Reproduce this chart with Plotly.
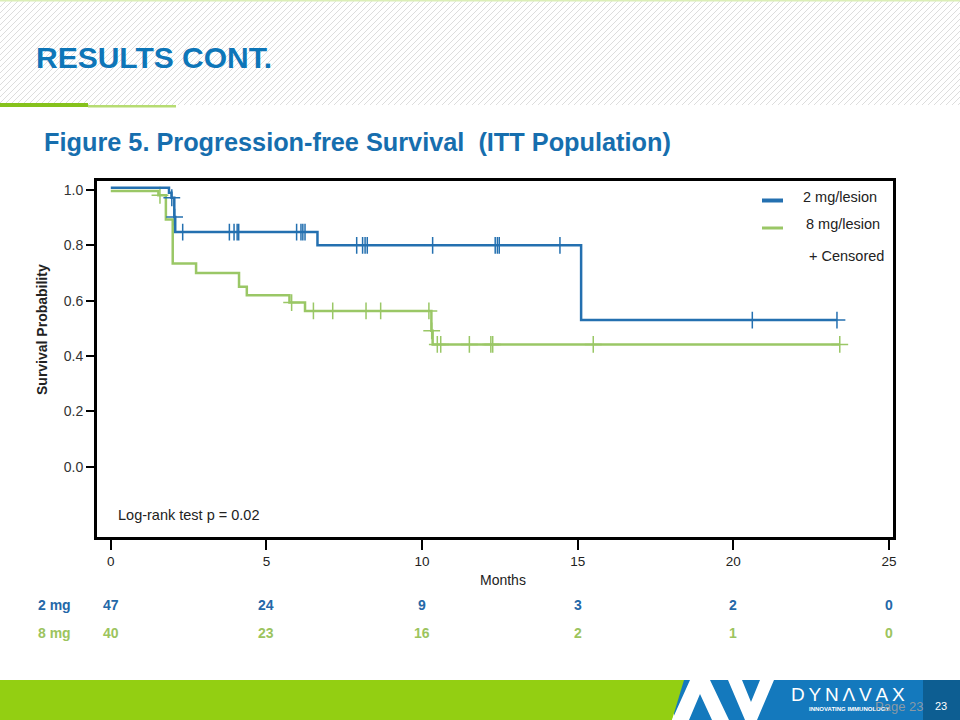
import plotly.graph_objects as go

# ---------------- data ----------------
month_ticks = [0, 5, 10, 15, 20, 25]
risk_2mg = [47, 24, 9, 3, 2, 0]
risk_8mg = [40, 23, 16, 2, 1, 0]
y_ticks = [0.0, 0.2, 0.4, 0.6, 0.8, 1.0]

blue_times = [0, 1.87, 1.95, 2.04, 2.07, 6.64, 15.11]
blue_surv = [1.008, 0.990, 0.972, 0.902, 0.848, 0.800, 0.530]
blue_end = 23.33
blue_censor = [1.96, 2.05, 2.31, 3.81, 3.96, 4.06, 4.11, 5.97, 6.11, 6.17, 6.24,
               7.90, 8.09, 8.17, 8.24, 10.34, 12.35, 12.42, 12.48, 14.43, 20.61, 23.33]

green_times = [0, 1.53, 1.77, 1.99, 2.74, 4.12, 4.37, 5.74, 6.24, 10.30, 10.34]
green_surv = [0.996, 0.981, 0.893, 0.734, 0.700, 0.650, 0.620, 0.593, 0.563, 0.491, 0.442]
green_end = 23.42
green_censor = [1.58, 5.81, 6.51, 7.13, 8.20, 8.67, 10.22, 10.31, 10.49, 10.60,
                11.52, 12.21, 12.27, 15.50, 23.42]

BLUE = '#2470b0'
GREEN = '#9ac766'
TXT_BLUE = '#2468a8'
TXT_GREEN = '#9cc45e'
FONT = 'Liberation Sans, Arial, sans-serif'

# plot box in pixels
X0, X1, Y0, Y1 = 97, 893, 181, 537


def px(x):
    return (x - X0) / (X1 - X0)


def py(y):
    return (Y1 - y) / (Y1 - Y0)


def level(times, surv, t):
    v = surv[0]
    for ti, si in zip(times, surv):
        if ti <= t:
            v = si
    return v


fig = go.Figure()

for times, surv, end, cens, col in [
    (green_times, green_surv, green_end, green_censor, GREEN),
    (blue_times, blue_surv, blue_end, blue_censor, BLUE),
]:
    fig.add_trace(go.Scatter(
        x=times + [end], y=surv + [surv[-1]], mode='lines',
        line=dict(color=col, width=2.5, shape='hv'), hoverinfo='skip'))
    fig.add_trace(go.Scatter(
        x=cens, y=[level(times, surv, t) for t in cens], mode='markers',
        marker=dict(symbol='cross-thin', size=12, color=col,
                    line=dict(color=col, width=1.5)), hoverinfo='skip'))

shapes = []
annotations = []

# header stripes
for x0 in range(-110, 966, 6):
    shapes.append(dict(type='line', xref='paper', yref='paper',
                       x0=px(x0), y0=py(105), x1=px(x0 + 105), y1=py(0),
                       line=dict(color='#dddddd', width=1), layer='below'))
shapes.append(dict(type='rect', xref='paper', yref='paper', x0=px(0), x1=px(960),
                   y0=py(0), y1=py(1.5), fillcolor='#dcefb8', line=dict(width=0), layer='below'))
shapes.append(dict(type='rect', xref='paper', yref='paper', x0=px(0), x1=px(88),
                   y0=py(103), y1=py(107), fillcolor='#86c21c', line=dict(width=0)))
shapes.append(dict(type='rect', xref='paper', yref='paper', x0=px(88), x1=px(176),
                   y0=py(105), y1=py(107.5), fillcolor='#b6dc72', line=dict(width=0)))


def poly(pts):
    return 'M ' + ' L '.join(f'{px(x)},{py(y)}' for x, y in pts) + ' Z'


# footer
shapes.append(dict(type='rect', xref='paper', yref='paper', x0=px(674), x1=px(923),
                   y0=py(680), y1=py(720), fillcolor='#1479bd', line=dict(width=0)))
shapes.append(dict(type='rect', xref='paper', yref='paper', x0=px(923), x1=px(960),
                   y0=py(680), y1=py(720), fillcolor='#0d5e92', line=dict(width=0)))
shapes.append(dict(type='path', xref='paper', yref='paper',
                   path=poly([(0, 680), (684, 680), (672, 720), (0, 720)]),
                   fillcolor='#93cf12', line=dict(width=0)))
shapes.append(dict(type='path', xref='paper', yref='paper',
                   path=poly([(672, 720), (690, 680), (710, 680), (729, 720), (712, 720),
                              (700, 694), (689, 720)]),
                   fillcolor='white', line=dict(width=0)))
shapes.append(dict(type='path', xref='paper', yref='paper',
                   path=poly([(728, 680), (742, 680), (751, 702), (760, 680), (774, 680),
                              (757, 720), (745, 720)]),
                   fillcolor='white', line=dict(width=0)))

# legend line samples
shapes.append(dict(type='line', xref='paper', yref='paper', x0=px(762), x1=px(783),
                   y0=py(200.5), y1=py(200.5), line=dict(color=BLUE, width=4)))
shapes.append(dict(type='line', xref='paper', yref='paper', x0=px(762), x1=px(783),
                   y0=py(228), y1=py(228), line=dict(color=GREEN, width=3)))


def ann(text, x, y, size, color='black', bold=False, xanchor='left', family=FONT, **kw):
    annotations.append(dict(
        text=f'<b>{text}</b>' if bold else text, xref='paper', yref='paper',
        x=px(x), y=py(y), xanchor=xanchor, yanchor='middle', showarrow=False,
        font=dict(size=size, color=color, family=family), **kw))


ann('RESULTS CONT.', 34, 57, 30, '#0e76b8', bold=True)
ann('Figure 5. Progression-free Survival  (ITT Population)', 42, 142, 25.3, '#166eae', bold=True)

ann('2 mg/lesion', 801, 197, 14.5, '#222')
ann('8 mg/lesion', 804, 224, 14.5, '#222')
ann('+ Censored', 807, 256, 14.5, '#222')
ann('Log-rank test p = 0.02', 116, 515, 14.5, '#222')
ann('Survival Probability', 42, 330, 14, '#222', bold=True, xanchor='center', textangle=-90)
ann('Months', 503, 580, 14, '#222', xanchor='center')

ann('2 mg', 36, 605, 14, TXT_BLUE, bold=True)
ann('8 mg', 36, 633, 14, TXT_GREEN, bold=True)
for m, a, b in zip(month_ticks, risk_2mg, risk_8mg):
    annotations.append(dict(text=f'<b>{a}</b>', xref='x', yref='paper', x=m, y=py(605),
                            showarrow=False, xanchor='center', yanchor='middle',
                            font=dict(size=14, color=TXT_BLUE, family=FONT)))
    annotations.append(dict(text=f'<b>{b}</b>', xref='x', yref='paper', x=m, y=py(633),
                            showarrow=False, xanchor='center', yanchor='middle',
                            font=dict(size=14, color=TXT_GREEN, family=FONT)))

# footer texts
ann('D\u2009Y\u2009N\u2009\u039b\u2009V\u2009A\u2009X', 789, 694, 19, 'white')
ann('<b>INNOVATING IMMUNOLOGY</b>', 807, 709, 6, 'white')
ann('Page 23', 873, 706, 13, 'rgba(160,160,160,0.85)')
ann('23', 941, 706, 11, 'white', xanchor='center')

fig.update_layout(
    width=960, height=720, autosize=False,
    margin=dict(l=X0, r=960 - X1, t=Y0, b=720 - Y1, pad=0),
    paper_bgcolor='white', plot_bgcolor='white', showlegend=False,
    shapes=shapes, annotations=annotations,
    xaxis=dict(range=[-0.443, 25.13], tickvals=month_ticks, ticks='outside', ticklen=10,
               tickwidth=2, tickcolor='black', showline=True, linecolor='black', linewidth=3,
               mirror=True, showgrid=False, zeroline=False,
               tickfont=dict(size=13.5, color='#222', family=FONT)),
    yaxis=dict(range=[-0.254, 1.0325], tickvals=y_ticks, tickformat='.1f', ticks='outside',
               ticklen=8, tickwidth=2, tickcolor='black', showline=True, linecolor='black',
               linewidth=3, mirror=True, showgrid=False, zeroline=False,
               tickfont=dict(size=14, color='#333', family=FONT)),
)

fig.write_html('out.html', config={'displayModeBar': False},
               post_script="document.body.style.margin='0';document.body.style.overflow='hidden';")
